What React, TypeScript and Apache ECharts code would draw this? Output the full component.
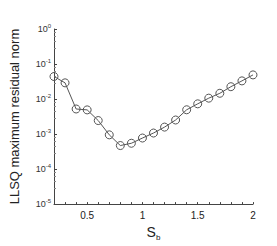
import React, { useEffect, useRef } from "react";
import * as echarts from "echarts";

const sbValues = [0.2, 0.3, 0.4, 0.5, 0.6, 0.7, 0.8, 0.9, 1.0, 1.1, 1.2, 1.3, 1.4, 1.5, 1.6, 1.7, 1.8, 1.9, 2.0];
const residualNorm = [0.044, 0.029, 0.0052, 0.0049, 0.00243, 0.00095, 0.00047, 0.000546, 0.00077, 0.00107, 0.00158, 0.00252, 0.00494, 0.0073, 0.0106, 0.0146, 0.0225, 0.033, 0.0489];
const xTickLabels = ["0.5", "1", "1.5", "2"];
const yAxisName = "LLSQ maximum residual norm";

export default function App() {
  const ref = useRef<HTMLDivElement>(null);
  useEffect(() => {
    if (!ref.current) return;
    const chart = echarts.init(ref.current, null, { renderer: "svg" });
    const font = "'Liberation Sans', Arial, sans-serif";
    chart.setOption({
      animation: false,
      backgroundColor: "#fff",
      grid: { left: 45, right: 24, top: 29, bottom: 29, containLabel: false },
      xAxis: {
        type: "value",
        min: 0.2,
        max: 2,
        interval: 0.1,
        name: "{s|S}{b|b}",
        nameLocation: "middle",
        nameGap: 14,
        nameTextStyle: {
          rich: {
            s: { fontSize: 14, fontFamily: font, color: "#222" },
            b: { fontSize: 8, fontFamily: font, color: "#222", padding: [10, 0, 0, 0] },
          },
        },
        axisLine: { lineStyle: { color: "#444", width: 1 } },
        axisTick: { inside: true, length: 2, lineStyle: { color: "#444" } },
        splitLine: { show: false },
        axisLabel: {
          fontSize: 10,
          fontFamily: font,
          color: "#222",
          margin: 6,
          formatter: (v: number) => {
            const s = String(Math.round(v * 10) / 10);
            return xTickLabels.includes(s) ? s : "";
          },
        },
      },
      yAxis: {
        type: "log",
        logBase: 10,
        min: 1e-5,
        max: 1,
        name: yAxisName,
        nameLocation: "middle",
        nameGap: 33,
        nameTextStyle: { fontSize: 13, fontFamily: font, color: "#222" },
        axisLine: { show: true, lineStyle: { color: "#444", width: 1 } },
        axisTick: { show: true, inside: true, length: 3, lineStyle: { color: "#444" } },
        minorTick: { show: true, splitNumber: 5, length: 2, lineStyle: { color: "#888" } },
        splitLine: { show: false },
        axisLabel: {
          margin: 3,
          formatter: (v: number) => {
            const e = Math.round(Math.log10(v));
            return "{b|10}{s|" + e + "}";
          },
          rich: {
            b: { fontSize: 9, fontFamily: font, color: "#333" },
            s: { fontSize: 6, fontFamily: font, color: "#333", padding: [0, 0, 6, 0] },
          },
        },
      },
      series: [
        {
          type: "line",
          data: sbValues.map((x, i) => [x, residualNorm[i]]),
          symbol: "circle",
          symbolSize: 8,
          itemStyle: { color: "rgba(255,255,255,0)", borderColor: "#555", borderWidth: 1 },
          lineStyle: { color: "#555", width: 1 },
        },
      ],
    });
    return () => chart.dispose();
  }, []);
  return <div ref={ref} style={{ width: 277, height: 246, position: "absolute", left: 0, top: 0 }} />;
}
